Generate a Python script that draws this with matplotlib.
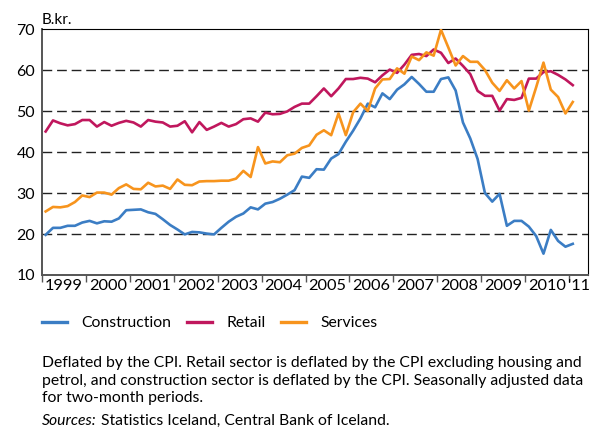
import matplotlib
matplotlib.use("Agg")
import matplotlib.pyplot as plt
import numpy as np

plt.rcParams['font.family'] = ['Lato', 'DejaVu Sans']

# turnover per two-month period, 1999 jan-feb .. 2011 jan-feb (B.kr.)
construction = [19.8, 21.5, 21.5, 22.0, 22.0, 22.8,
                23.2, 22.6, 23.1, 23.0, 23.8, 25.8,
                25.9, 26.0, 25.3, 24.9, 23.6, 22.2,
                21.1, 19.9, 20.5, 20.4, 20.1, 19.9,
                21.5, 23.0, 24.2, 25.0, 26.5, 26.0,
                27.4, 27.8, 28.6, 29.6, 30.7, 34.0,
                33.7, 35.8, 35.7, 38.4, 39.5, 42.5,
                45.2, 48.2, 51.8, 50.9, 54.3, 52.9,
                55.2, 56.5, 58.3, 56.6, 54.7, 54.7,
                57.8, 58.2, 55.0, 47.2, 43.3, 38.3,
                30.0, 27.9, 29.8, 22.0, 23.2, 23.2,
                21.8, 19.5, 15.2, 21.0, 18.3, 16.9,
                17.6]

retail = [45.0, 47.7, 47.0, 46.5, 46.8, 47.8,
          47.8, 46.2, 47.3, 46.4, 47.1, 47.6,
          47.2, 46.2, 47.8, 47.4, 47.2, 46.2,
          46.4, 47.5, 44.8, 47.3, 45.4, 46.2,
          47.1, 46.2, 46.8, 48.0, 48.2, 47.4,
          49.6, 49.2, 49.3, 49.9, 51.0, 51.8,
          51.8, 53.6, 55.5, 53.6, 55.5, 57.8,
          57.8, 58.1, 57.9, 57.0, 58.7, 60.1,
          59.3, 61.3, 63.7, 63.9, 63.4, 65.0,
          64.2, 61.7, 62.8, 61.0, 59.0, 54.9,
          53.7, 53.7, 50.1, 52.9, 52.7, 53.2,
          57.9, 57.9, 59.5, 59.7, 58.8, 57.7,
          56.3]

services = [25.5, 26.6, 26.5, 26.8, 27.8, 29.4,
            29.0, 30.1, 30.1, 29.6, 31.2, 32.1,
            31.0, 30.9, 32.5, 31.6, 31.8, 31.0,
            33.3, 32.0, 31.9, 32.8, 32.9, 32.9,
            33.0, 33.0, 33.5, 35.4, 33.9, 41.2,
            37.2, 37.7, 37.5, 39.2, 39.6, 41.0,
            41.6, 44.2, 45.3, 44.1, 49.4, 44.1,
            49.7, 51.8, 50.0, 55.5, 57.7, 57.8,
            60.4, 59.1, 63.3, 62.4, 64.3, 63.5,
            69.8, 65.5, 61.1, 63.4, 62.0, 62.0,
            60.0, 56.9, 54.9, 57.5, 55.5, 57.3,
            50.1, 55.8, 61.8, 55.2, 53.4, 49.4,
            52.2]

years = list(range(1999, 2012))
year_labels = [str(y) for y in range(1999, 2011)] + ["'11"]

# x position = middle of each two-month period
x = np.array([1999 + (i + 0.5) / 6 for i in range(len(construction))])

fig = plt.figure(figsize=(5.92, 4.30), dpi=100)
ax = fig.add_axes([42/592, 1 - 275/430, 546/592, 246/430])

blue = '#3b7dc4'
red = '#c0175d'
orange = '#f7941d'

ax.plot(x, construction, color=blue, lw=1.9, label='Construction', zorder=3)
ax.plot(x, retail, color=red, lw=1.9, label='Retail', zorder=3)
ax.plot(x, services, color=orange, lw=1.9, label='Services', zorder=3)

ax.set_xlim(1999, 2011.43)
ax.set_ylim(10, 70)

# dashed grid lines
for g in [20, 30, 40, 50, 60]:
    ax.axhline(g, color='#222222', lw=1.0, linestyle=(0, (7, 3.5)), zorder=1)

ax.set_yticks([10, 20, 30, 40, 50, 60, 70])
ax.tick_params(axis='y', length=0, pad=5, labelsize=11.5)

# year ticks at boundaries, labels in the middle
ax.set_xticks(years)
ax.set_xticklabels([])
ax.tick_params(axis='x', which='major', length=5, width=1, direction='out', color='#555555')
mids = [y + 0.5 for y in range(1999, 2011)] + [(2011 + 2011.43) / 2]
ax.set_xticks(mids, minor=True)
ax.set_xticklabels(year_labels, minor=True)
ax.tick_params(axis='x', which='minor', length=0, pad=3, labelsize=11.8)

for s in ['left', 'bottom']:
    ax.spines[s].set_color('#555555')
    ax.spines[s].set_linewidth(1.4)
for s in ['top', 'right']:
    ax.spines[s].set_color('black')
    ax.spines[s].set_linewidth(0.8)

fig.text(42/592, 1 - 24/430, 'B.kr.', fontsize=11, va='baseline', ha='left')

leg = fig.legend(loc='center left', bbox_to_anchor=(42/592, 1 - 323/430), ncol=3,
                 frameon=False, fontsize=11.3, handlelength=1.6, handletextpad=0.9,
                 columnspacing=1.0, borderpad=0, borderaxespad=0)
for l in leg.get_lines():
    l.set_linewidth(2.4)

# footnote
fs = 11.3
notes = ["Deflated by the CPI. Retail sector is deflated by the CPI excluding housing and",
         "petrol, and construction sector is deflated by the CPI. Seasonally adjusted data",
         "for two-month periods."]
for i, t in enumerate(notes):
    fig.text(42/592, 1 - (367 + 17.7 * i)/430, t, fontsize=fs, va='baseline', ha='left')

src = fig.text(42/592, 1 - 425/430, 'Sources:', fontsize=fs, style='italic',
               va='baseline', ha='left')
fig.canvas.draw()
bb = src.get_window_extent()
fig.text((bb.x1 + 4) / 592, 1 - 425/430, 'Statistics Iceland, Central Bank of Iceland.',
         fontsize=fs, va='baseline', ha='left')

fig.savefig('out.png', dpi=100)
